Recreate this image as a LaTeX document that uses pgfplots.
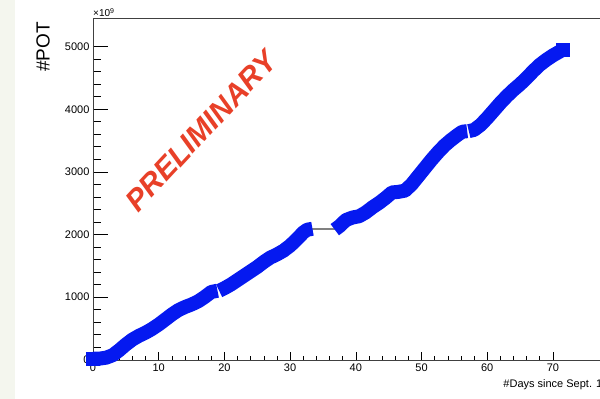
\documentclass[border=0pt]{standalone}
\usepackage{pgfplots}
\pgfplotsset{compat=1.18}
\usepackage{fontspec}
\setmainfont{Liberation Sans}
\definecolor{rootblue}{RGB}{5,25,240}
\definecolor{prelim}{RGB}{232,64,40}
\definecolor{strip}{RGB}{244,246,238}
\begin{document}
\begin{tikzpicture}[x=1pt,y=1pt]
\fill[strip] (-93,-38.5) rectangle (-78,360.5);
\begin{axis}[
  at={(0,0)}, anchor=south west,
  scale only axis, width=512.5pt, height=342pt,
  xmin=0, xmax=78, ymin=-15, ymax=5450,
  xtick={0,10,...,70}, minor x tick num=4,
  ytick={0,1000,...,5000}, minor y tick num=4,
  xtick pos=bottom, ytick pos=left,
  tick align=inside,
  major tick length=15pt, minor tick length=8pt,
  xtick style={/pgfplots/major tick length=9pt,/pgfplots/minor tick length=5pt},
  tick style={black, line width=0.6pt},
  axis line style={black!75, line width=0.7pt},
  scaled y ticks=false,
  /pgf/number format/assume math mode=true,
  /pgf/number format/1000 sep={},
  tick label style={font=\fontsize{11}{13}\selectfont},
  clip=false,
]
\addplot[gray, line width=1.5pt] coordinates {(33.4,2085) (36.8,2085)};
\addplot[rootblue, line width=14pt, line join=round, line cap=butt, mark=square*, mark size=6.5pt, mark indices={1}, mark options={line width=0pt}] coordinates {
(0,15) (1,15) (2,30) (3,70) (4,150) (5,240) (6,320) (7,380) (8,430) (9,490)
(10,560) (11,640) (12,720) (13,790) (14,840) (15,880) (16,930) (17,1000)
(18,1080) (18.95,1100)};
\addplot[rootblue, line width=14pt, line join=round, line cap=butt] coordinates {
(19.2,1100) (20,1140) (21,1200) (22,1270) (23,1340) (24,1410) (25,1480)
(26,1560) (27,1630) (28,1680) (29,1740) (30,1820) (31,1920) (32,2030)
(32.6,2075) (33.4,2090)};
\addplot[rootblue, line width=14pt, line join=round, line cap=butt] coordinates {
(36.8,2075) (37.5,2130) (38.5,2230) (39.5,2270) (40.5,2290) (41.5,2350)
(42.5,2430) (43.5,2500) (44.5,2580) (45.5,2670) (46.5,2680) (47.5,2700)
(48.5,2800) (49.5,2930) (50.5,3060) (51.5,3190) (52.5,3310) (53.5,3420)
(54.5,3510) (55.5,3590) (56.2,3640) (56.95,3650)};
\addplot[rootblue, line width=14pt, line join=round, line cap=butt, mark=square*, mark size=6.5pt, mark indices={16}, mark options={line width=0pt}] coordinates {
(57.2,3650) (58,3670) (59,3750) (60,3860) (61,3980) (62,4100) (63,4210)
(64,4310) (65,4400) (66,4500) (67,4610) (68,4710) (69,4790) (70,4860)
(71,4920) (71.5,4950)};
\node[anchor=base east, font=\fontsize{11}{13}\selectfont, inner sep=0pt] at (rel axis cs:1,0) [yshift=-26.5pt, xshift=-3pt] {\#Days since Sept. 1};
\end{axis}
\node[rotate=90, font=\fontsize{19}{22}\selectfont, inner sep=0pt] at (-50,313.5) {\#POT};
\node[anchor=base west, font=\fontsize{10}{12}\selectfont, inner sep=0pt] at (0,343.5) {×10\textsuperscript{9}};
\node[rotate=47, font=\fontsize{30}{32}\selectfont\bfseries\itshape, text=prelim, inner sep=0pt] at (108,229.5) {PRELIMINARY};
\pgfresetboundingbox
\path[use as bounding box] (-93,-38.5) rectangle (507,360.5);
\end{tikzpicture}
\end{document}
